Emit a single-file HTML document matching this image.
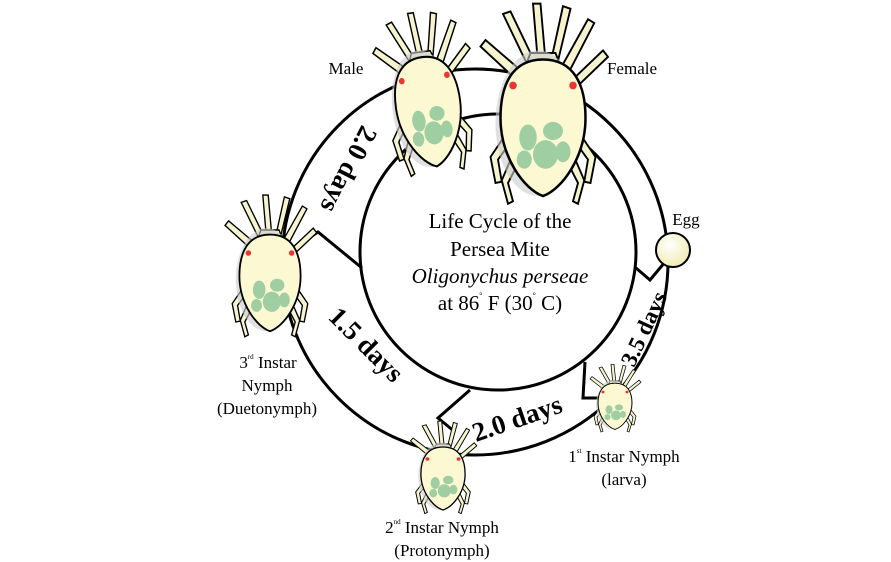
<!DOCTYPE html>
<html><head><meta charset="utf-8"><style>
body{margin:0;background:#fff}
svg{display:block}
text{font-family:"Liberation Serif",serif}
</style></head><body>
<svg width="891" height="562" viewBox="0 0 891 562">
<defs>
<radialGradient id="eg" cx="0.4" cy="0.35" r="0.7"><stop offset="0" stop-color="#fff"/><stop offset="1" stop-color="#f0ebb0"/></radialGradient>
<g id="mite">
 <g stroke="#000" stroke-width="1.5" fill="#f6f3cf">
  <path d="M-12,-40 L-32,-80 L-26,-82 L-7,-44Z"/>
  <path d="M-4,-42 L-8,-88 L-2,-88 L2,-44Z"/>
  <path d="M6,-42 L16,-86 L22,-84 L11,-40Z"/>
  <path d="M14,-38 L36,-76 L41,-73 L20,-34Z"/>
  <path d="M-22,-30 L-50,-55 L-46,-60 L-17,-36Z"/>
  <path d="M22,-28 L48,-52 L52,-47 L26,-23Z"/>
  <path d="M-28,10 L-42,30 L-38,50 L-33,49 L-36,32 L-24,16Z"/>
  <path d="M28,10 L42,30 L38,50 L33,49 L36,32 L24,16Z"/>
  <path d="M-25,30 L-33,48 L-28,66 L-24,64 L-28,50 L-20,35Z"/>
  <path d="M25,30 L33,48 L28,66 L24,64 L28,50 L20,35Z"/>
  <path d="M-10,-50 L10,-50 L14,-40 L-14,-40Z"/>
 </g>
 <ellipse cx="-4" cy="4" rx="34" ry="56" fill="#ccc" opacity="0.6"/>
 <path d="M0,-45 C25,-45 34,-25 34,0 C34,30 15,55 0,60 C-15,55 -34,30 -34,0 C-34,-25 -25,-45 0,-45Z" fill="#fbf8d2" stroke="#000" stroke-width="2"/>
 <circle cx="-24" cy="-25" r="3" fill="#e33"/><circle cx="24" cy="-25" r="3" fill="#e33"/>
 <g fill="#8fc79a" opacity="0.85"><ellipse cx="-12" cy="15" rx="7" ry="10"/><ellipse cx="8" cy="10" rx="8" ry="7"/><ellipse cx="2" cy="28" rx="10" ry="11"/><ellipse cx="-15" cy="32" rx="6" ry="7"/><ellipse cx="16" cy="26" rx="6" ry="8"/></g>
</g>
</defs>
<circle cx="475" cy="262" r="193" fill="#fff" stroke="#000" stroke-width="3"/>
<circle cx="498" cy="252" r="138" fill="#fff" stroke="#000" stroke-width="3"/>
<g stroke="#000" stroke-width="3" fill="none">
 <polyline points="290,250 318,232 362,268"/>
 <polyline points="636,268 650,280 665,262"/>
 <polyline points="585,362 583,398 598,398"/>
 <polyline points="470,390 438,418 455,432"/>
</g>
<g fill="#fff" stroke="none">
 <polygon points="292,253 318,236 358,268 356,275 318,246 294,262"/>
</g>
<g font-weight="bold" font-size="27">
 <text transform="translate(362,124) rotate(117)">2.0 days</text>
 <text transform="translate(327,318) rotate(45)">1.5 days</text>
 <text transform="translate(476,442) rotate(-19)">2.0 days</text>
 <text transform="translate(634,368) rotate(-65)" font-size="23">3.5 days</text>
</g>
<use href="#mite" transform="translate(428,104) rotate(-8) scale(0.95,1.05)"/>
<use href="#mite" transform="translate(543,118) scale(1.25,1.3)"/>
<use href="#mite" transform="translate(270,276) scale(0.9,0.92)"/>
<use href="#mite" transform="translate(443,474) scale(0.65,0.6)"/>
<use href="#mite" transform="translate(615,403) scale(0.5,0.44)"/>
<circle cx="673" cy="250" r="17" fill="url(#eg)" stroke="#000" stroke-width="2"/>
<g font-size="21" text-anchor="middle">
 <text x="500" y="228">Life Cycle of the</text>
 <text x="500" y="256">Persea Mite</text>
 <text x="500" y="283" font-style="italic">Oligonychus perseae</text>
 <text x="500" y="310">at 86<tspan font-size="8" dy="-12">°</tspan><tspan dy="12"> F (30</tspan><tspan font-size="8" dy="-12">°</tspan><tspan dy="12"> C)</tspan></text>
</g>
<g font-size="17" text-anchor="middle">
 <text x="346" y="74">Male</text>
 <text x="632" y="74">Female</text>
 <text x="686" y="225">Egg</text>
 <text x="268" y="368">3<tspan font-size="7" dy="-9">rd</tspan><tspan dy="9"> Instar</tspan></text>
 <text x="267" y="391">Nymph</text>
 <text x="267" y="414">(Duetonymph)</text>
 <text x="442" y="533">2<tspan font-size="7" dy="-9">nd</tspan><tspan dy="9"> Instar Nymph</tspan></text>
 <text x="442" y="556">(Protonymph)</text>
 <text x="624" y="462">1<tspan font-size="7" dy="-9">st</tspan><tspan dy="9"> Instar Nymph</tspan></text>
 <text x="624" y="485">(larva)</text>
</g>
</svg>
</body></html>
